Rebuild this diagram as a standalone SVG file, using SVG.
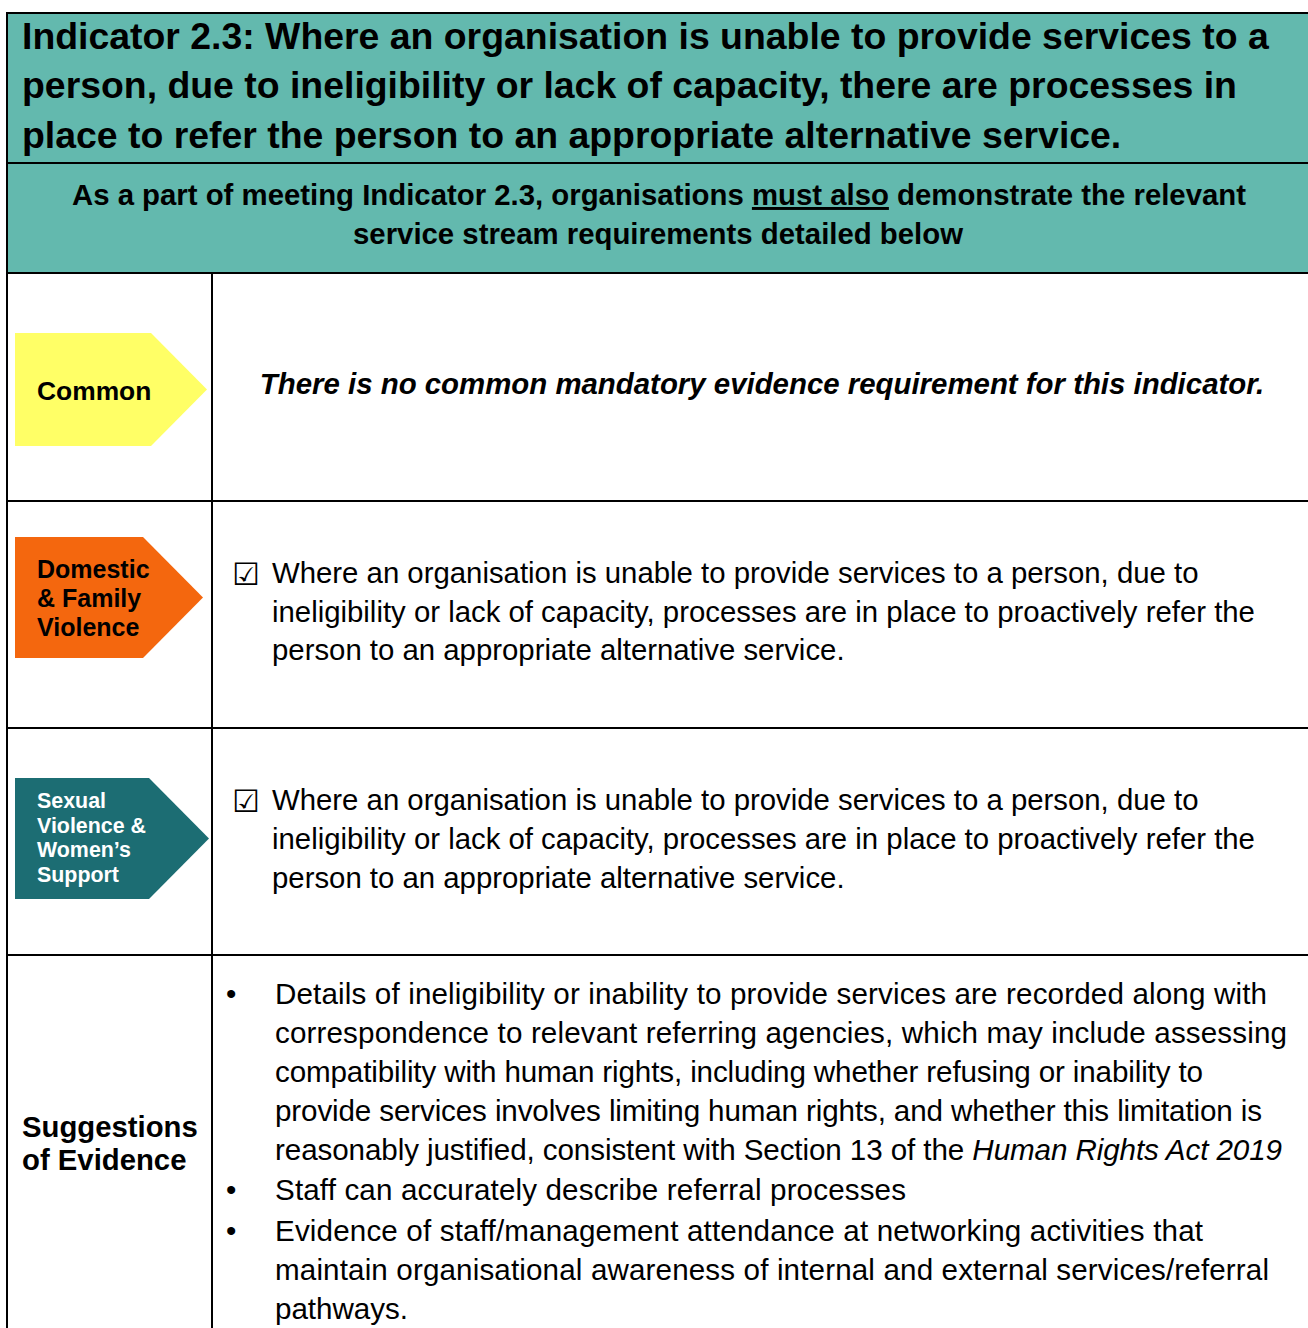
<svg xmlns="http://www.w3.org/2000/svg" width="1308" height="1328" viewBox="0 0 1308 1328">
<style>
.b{font-family:"Liberation Sans",Arial,sans-serif;font-weight:bold;fill:#000}
.w{fill:#fff}
.r{font-family:"Liberation Sans",Arial,sans-serif;fill:#000;font-size:29.35px}
.e{font-family:"Liberation Sans",Arial,sans-serif;fill:#000;font-size:29.6px}
.ln{stroke:#000;stroke-width:2;fill:none}
.chk{font-family:"DejaVu Sans",sans-serif;font-size:31px;fill:#000}
</style>
<rect x="0" y="0" width="1308" height="1328" fill="#fff"/>
<g id="header">
<rect x="7" y="13" width="1301" height="260" fill="#63B9AE"/>
<text class="b" font-size="37.4" x="22" y="49">Indicator 2.3: Where an organisation is unable to provide services to a</text>
<text class="b" font-size="37.4" x="22" y="98">person, due to ineligibility or lack of capacity, there are processes in</text>
<text class="b" font-size="37.4" x="22" y="148">place to refer the person to an appropriate alternative service.</text>
<text class="b" font-size="29.35" x="659" y="205" text-anchor="middle">As a part of meeting Indicator 2.3, organisations <tspan style="text-decoration:underline">must also</tspan> demonstrate the relevant</text>
<text class="b" font-size="29.35" x="658" y="244" text-anchor="middle">service stream requirements detailed below</text>
</g>
<g id="grid">
<line class="ln" x1="7" y1="13" x2="1308" y2="13"/>
<line class="ln" x1="7" y1="12" x2="7" y2="1328"/>
<line class="ln" x1="7" y1="163" x2="1308" y2="163"/>
<line class="ln" x1="7" y1="273" x2="1308" y2="273"/>
<line class="ln" x1="212" y1="273" x2="212" y2="1328"/>
<line class="ln" x1="7" y1="501" x2="1308" y2="501"/>
<line class="ln" x1="7" y1="728" x2="1308" y2="728"/>
<line class="ln" x1="7" y1="955" x2="1308" y2="955"/>
</g>
<g id="common">
<polygon points="15,333 151,333 207,389.5 151,446 15,446" fill="#FFFF66"/>
<text class="b" font-size="26.4" x="37" y="400">Common</text>
<text class="b" font-size="29.4" x="762" y="394" text-anchor="middle" font-style="italic">There is no common mandatory evidence requirement for this indicator.</text>
</g>
<g id="dfv">
<polygon points="15,537 143,537 203,597.5 143,658 15,658" fill="#F4670E"/>
<text class="b" font-size="25" x="37" y="578">Domestic</text>
<text class="b" font-size="25" x="37" y="607">&amp; Family</text>
<text class="b" font-size="25" x="37" y="636">Violence</text>
<text class="chk" x="232" y="585">☑</text>
<text class="r" x="272" y="583">Where an organisation is unable to provide services to a person, due to</text>
<text class="r" x="272" y="622">ineligibility or lack of capacity, processes are in place to proactively refer the</text>
<text class="r" x="272" y="660">person to an appropriate alternative service.</text>
</g>
<g id="svws">
<polygon points="15,778 149,778 209,838.5 149,899 15,899" fill="#1C6D73"/>
<text class="b w" font-size="21.4" x="37" y="808">Sexual</text>
<text class="b w" font-size="21.4" x="37" y="833">Violence &amp;</text>
<text class="b w" font-size="21.4" x="37" y="857">Women’s</text>
<text class="b w" font-size="21.4" x="37" y="882">Support</text>
<text class="chk" x="232" y="812">☑</text>
<text class="r" x="272" y="810">Where an organisation is unable to provide services to a person, due to</text>
<text class="r" x="272" y="849">ineligibility or lack of capacity, processes are in place to proactively refer the</text>
<text class="r" x="272" y="888">person to an appropriate alternative service.</text>
</g>
<g id="evidence">
<text class="b" font-size="29.3" x="22" y="1137">Suggestions</text>
<text class="b" font-size="29.3" x="22" y="1170">of Evidence</text>
<text class="e" x="226" y="1004">•</text>
<text class="e" x="275" y="1004" textLength="992">Details of ineligibility or inability to provide services are recorded along with</text>
<text class="e" x="275" y="1043" textLength="1012">correspondence to relevant referring agencies, which may include assessing</text>
<text class="e" x="275" y="1082" textLength="928">compatibility with human rights, including whether refusing or inability to</text>
<text class="e" x="275" y="1121" textLength="987">provide services involves limiting human rights, and whether this limitation is</text>
<text class="e" x="275" y="1160" textLength="1007">reasonably justified, consistent with Section 13 of the <tspan font-style="italic">Human Rights Act 2019</tspan></text>
<text class="e" x="226" y="1200">•</text>
<text class="e" x="275" y="1200" textLength="631">Staff can accurately describe referral processes</text>
<text class="e" x="226" y="1241">•</text>
<text class="e" x="275" y="1241" textLength="928">Evidence of staff/management attendance at networking activities that</text>
<text class="e" x="275" y="1280" textLength="994">maintain organisational awareness of internal and external services/referral</text>
<text class="e" x="275" y="1319" textLength="133">pathways.</text>
</g>
</svg>
